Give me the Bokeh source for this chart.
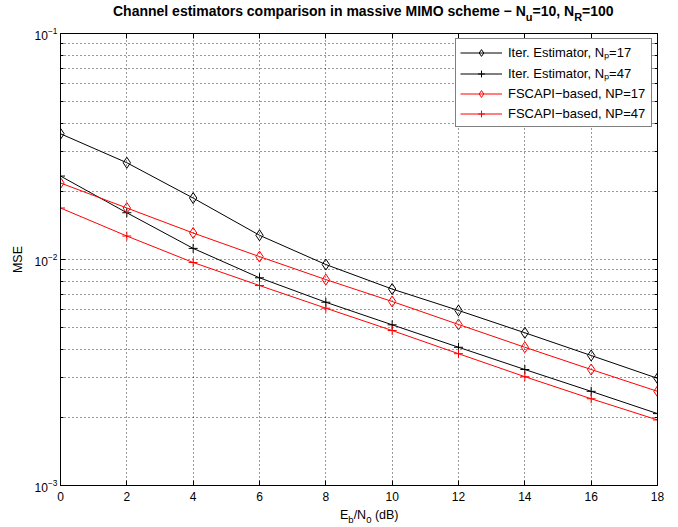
from bokeh.plotting import figure
from bokeh.layouts import column
from bokeh.models import (LinearAxis, LogAxis, FixedTicker, Legend, LegendItem,
                          CustomJSTickFormatter, Range1d, Div)
from bokeh.embed import file_html
from bokeh.resources import INLINE

# ---------------- data ----------------
EBN0_DB = [0, 2, 4, 6, 8, 10, 12, 14, 16, 18]
ITER_NP17 = [0.0360, 0.0268, 0.0187, 0.0128, 0.0095, 0.0074, 0.00595, 0.00474, 0.00376, 0.00298]
ITER_NP47 = [0.0234, 0.0161, 0.0112, 0.0083, 0.00647, 0.00514, 0.00409, 0.00326, 0.00261, 0.00208]
FSCAPI_NP17 = [0.0218, 0.0169, 0.0131, 0.0103, 0.00815, 0.00652, 0.00516, 0.00409, 0.00326, 0.00261]
FSCAPI_NP47 = [0.0169, 0.0127, 0.0097, 0.00767, 0.00609, 0.00485, 0.00383, 0.00303, 0.00242, 0.00195]
SERIES_LABELS = ["Iter. Estimator, N\u209a=17", "Iter. Estimator, N\u209a=47",
                 "FSCAPI\u2212based, NP=17", "FSCAPI\u2212based, NP=47"]
X_TICKS = [0, 2, 4, 6, 8, 10, 12, 14, 16, 18]
Y_TICKS = [1e-3, 1e-2, 1e-1]
Y_MINOR = [m * t for t in Y_TICKS[:-1] for m in range(2, 10)]

FONT = "Liberation Sans"

# ---------------- layout geometry ----------------
W = 677
TITLE_H = 25
XLAB_H = 20
H = 482
FL, FR, FT, FB = 60, 20, 8, 22

title_div = Div(
    text=("<div style=\"padding-left:113px; padding-top:3px; font-family:'Liberation Sans';"
          " font-size:14px; font-weight:bold; white-space:nowrap; color:black; line-height:16px\">"
          "Channel estimators comparison in massive MIMO scheme \u2212 N"
          "<span style=\"font-size:11px; position:relative; top:5px\">u</span>=10, N"
          "<span style=\"font-size:11px; position:relative; top:5px\">R</span>=100</div>"),
    width=W, height=TITLE_H, margin=0)

xlab_div = Div(
    text=("<div style=\"padding-left:340px; padding-top:0px; font-family:'Liberation Sans';"
          " font-size:12.5px; white-space:nowrap; color:black; line-height:14px\">"
          "E<span style=\"font-size:9.5px; position:relative; top:4px\">b</span>/N"
          "<span style=\"font-size:9.5px; position:relative; top:4px\">0</span> (dB)</div>"),
    width=W, height=XLAB_H, margin=0)

# ---------------- figure ----------------
p = figure(width=W, height=H, x_range=Range1d(0, 18), y_range=Range1d(1e-3, 1e-1),
           y_axis_type="log", output_backend="svg", toolbar_location=None, margin=0,
           min_border_left=FL, min_border_right=FR, min_border_top=FT, min_border_bottom=FB)
p.background_fill_color = "white"
p.border_fill_color = "white"
p.outline_line_color = "black"
p.outline_line_width = 1

xt = FixedTicker(ticks=X_TICKS)
yt = FixedTicker(ticks=Y_TICKS, minor_ticks=Y_MINOR)

for ax in p.xaxis:
    ax.ticker = xt
for ax in p.yaxis:
    ax.ticker = yt
p.xgrid.ticker = xt
p.ygrid.ticker = yt

for ax in list(p.xaxis) + list(p.yaxis):
    ax.axis_line_color = "black"
    ax.major_tick_in = 5
    ax.major_tick_out = 0
    ax.minor_tick_in = 3
    ax.minor_tick_out = 0
    ax.major_tick_line_color = "black"
    ax.minor_tick_line_color = "black"
    ax.major_label_text_font = FONT
    ax.major_label_text_font_size = "12px"
    ax.major_label_text_color = "black"
    ax.major_label_standoff = 6

p.yaxis.major_label_standoff = 3
p.yaxis.axis_label = "MSE"
p.yaxis.axis_label_text_font = FONT
p.yaxis.axis_label_text_font_size = "12.5px"
p.yaxis.axis_label_text_font_style = "normal"
p.yaxis.axis_label_text_color = "black"
p.yaxis.axis_label_standoff = 7

blank = CustomJSTickFormatter(code="return ''")
top_ax = LinearAxis(ticker=xt, formatter=blank, major_tick_in=5, major_tick_out=0,
                    minor_tick_line_color=None, axis_line_color="black",
                    major_label_standoff=0, major_label_text_font_size="1px")
right_ax = LogAxis(ticker=yt, formatter=blank, major_tick_in=5, major_tick_out=0,
                   minor_tick_in=3, minor_tick_out=0, axis_line_color="black",
                   major_label_standoff=0, major_label_text_font_size="1px")
p.add_layout(top_ax, "above")
p.add_layout(right_ax, "right")

for g in list(p.xgrid) + list(p.ygrid):
    g.grid_line_color = "black"
    g.grid_line_alpha = 0.8
    g.grid_line_dash = "1 3"
    g.grid_line_width = 1
p.ygrid.minor_grid_line_color = "black"
p.ygrid.minor_grid_line_alpha = 0.8
p.ygrid.minor_grid_line_dash = "1 3"

# ---------------- series ----------------
series = [
    (ITER_NP17, "black", "diamond"),
    (ITER_NP47, "black", "cross"),
    (FSCAPI_NP17, "#ff0000", "diamond"),
    (FSCAPI_NP47, "#ff0000", "cross"),
]
renderers = []
for ys, col, mk in series:
    lr = p.line(EBN0_DB, ys, line_color=col, line_width=1)
    sr = p.scatter(EBN0_DB, ys, marker=mk, size=11 if mk == "diamond" else 9,
                   line_color=col, fill_color=None, line_width=1)
    renderers.append([lr, sr])

# ---------------- legend ----------------
legend = Legend(items=[LegendItem(label=t, renderers=r) for t, r in zip(SERIES_LABELS, renderers)],
                location="top_right", margin=5, padding=4, spacing=3,
                glyph_width=42, glyph_height=17, label_height=17,
                label_width=139, label_standoff=6,
                label_text_font=FONT, label_text_font_size="13px",
                label_text_color="black",
                border_line_color="black", border_line_width=1,
                background_fill_color="white", background_fill_alpha=1.0)
p.add_layout(legend)

layout = column(title_div, p, xlab_div, spacing=0)
open("out.html", "w").write(file_html(layout, INLINE))
